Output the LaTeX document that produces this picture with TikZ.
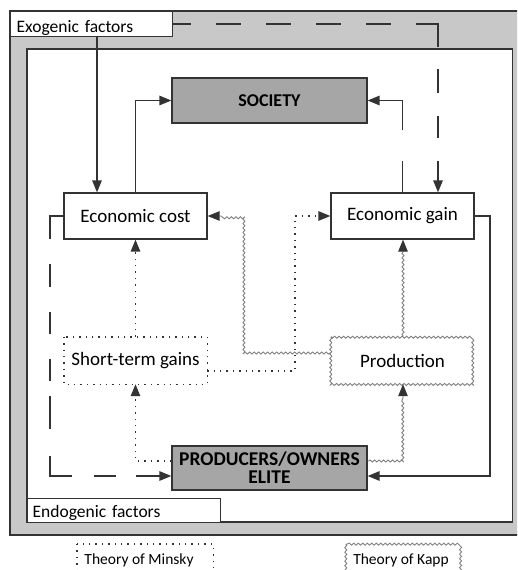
\documentclass[tikz,border=0pt]{standalone}
\usepackage{fontspec}
\setmainfont{Carlito}
\usetikzlibrary{arrows.meta,decorations.pathmorphing,calc}
\definecolor{linec}{HTML}{333333}
\definecolor{outerg}{HTML}{C8C8C8}
\definecolor{darkg}{HTML}{A6A6A6}
\definecolor{wavec}{HTML}{808080}
\tikzset{
  box/.style={draw=linec, line width=1.3pt, fill=white, font=\fontsize{19}{21}\selectfont, inner sep=0pt},
  darkbox/.style={box, fill=darkg, font=\fontsize{18}{18}\selectfont\bfseries, align=center},
  plain/.style={inner sep=0pt, font=\fontsize{19}{21}\selectfont},
  tip/.style={-{Triangle[length=12pt,width=9.5pt]}},
  solidarr/.style={draw=linec, line width=1.4pt, tip},
  longdash/.style={draw=linec, line width=1.4pt, tip},
  dotarr/.style={draw=linec, line width=1.4pt, dash pattern=on 1.4pt off 5pt, tip},
  dotline/.style={draw=linec, line width=1.4pt, dash pattern=on 1.4pt off 5pt},
  wavy/.style={draw=wavec, line width=0.9pt, decorate, decoration={snake, amplitude=1pt, segment length=4.5pt, pre length=1pt, post length=12pt}},
  wavyarr/.style={wavy, -{Triangle[length=12pt,width=9.5pt,color=linec]}, fill=none},
  wavybox/.style={draw=wavec, line width=0.9pt, decorate, decoration={snake, amplitude=1pt, segment length=4.5pt}},
  legendtext/.style={inner sep=0pt, anchor=base, font=\fontsize{15.5}{16}\selectfont},
}
\begin{document}
\begin{tikzpicture}[x=1pt,y=-1pt]
\useasboundingbox (0,0) rectangle (517,570);
\clip (0,0) rectangle (517,570);
% frames
\fill[outerg, draw=linec, line width=1.3pt] (10,11) rectangle (530,535);
\fill[white, draw=linec, line width=1.3pt] (27,49) rectangle (512.3,522);
\node[box, anchor=north west, minimum width=162pt, minimum height=25pt, text width=150pt, align=left, inner xsep=6pt, text height=17.6pt, text depth=0pt, font=\fontsize{17.5}{18}\selectfont] (exo) at (10,11) {Exogenic factors};
\node[box, anchor=north west, minimum width=193pt, minimum height=24pt, text width=183pt, align=left, inner xsep=5pt, text height=14.6pt, text depth=0pt, font=\fontsize{17.5}{18}\selectfont] (endo) at (27,498) {Endogenic factors};
% main nodes
\node[darkbox, minimum width=195pt, minimum height=45pt] (society) at (269.5,100.5) {SOCIETY};
\node[box, minimum width=143pt, minimum height=46pt] (cost) at (135.5,216) {Economic cost};
\node[box, minimum width=143pt, minimum height=46pt] (gain) at (402.5,216) {Economic gain};
\node[plain, minimum width=143pt, minimum height=47pt] (short) at (135.5,360.5) {Short-term gains};
\node[plain, minimum width=143pt, minimum height=47pt] (prod) at (402.5,360.5) {Production};
\node[darkbox, minimum width=195pt, minimum height=44pt, font=\fontsize{19.5}{18}\selectfont\bfseries] (elite) at (269.5,468) {PRODUCERS/OWNERS\\ELITE};
\draw[dotline] (short.north west) rectangle (short.south east);
\draw[wavybox] (prod.north west) rectangle (prod.south east);
% helper coordinates
\coordinate (xa) at (97,0);
\coordinate (xb) at (438,0);
\coordinate (xc) at (490,0);
\coordinate (xd) at (50,0);
\coordinate (xe) at (295,0);
\coordinate (xf) at (243,0);
\coordinate (xg) at (403,0);
% solid
\draw[solidarr] (exo.south -| xa) -- (cost.north -| xa);
\draw[solidarr] (cost.north) |- (society.west);
\draw[solidarr] (gain.east) -| (xc |- {$(elite.east)+(0,8)$}) -- ($(elite.east)+(0,8)$);
% long dashed
\draw[longdash, dash pattern=on 31pt off 31pt on 90pt off 1pt] (gain.north) |- (society.east);
\draw[longdash, dash pattern=on 18pt off 25pt on 25pt off 25pt on 25pt off 25pt on 25pt off 25pt on 25pt off 25pt on 45pt off 22pt on 24pt off 23pt on 22pt off 23pt on 60pt off 1pt] (exo.east) -| (gain.north -| xb);
\draw[longdash, dash pattern=on 36pt off 25pt on 23pt off 25pt on 22pt off 25pt on 22pt off 15pt on 33pt off 27pt on 42pt off 22pt on 22pt off 20pt on 70pt off 1pt] (cost.west) -| (xd |- {$(elite.west)+(0,8)$}) -- ($(elite.west)+(0,8)$);
% dotted (Minsky)
\draw[dotarr] (short.north) -- (cost.south);
\draw[dotarr] ($(elite.west)+(0,-7)$) -| (short.south);
\draw[dotarr] ($(short.east)+(0,10.5)$) -| (xe |- gain.west) -- (gain.west);
% wavy (Kapp)
\draw[wavyarr] ($(prod.west)+(0,-7.5)$) -| (xf |- cost.east) -- (cost.east);
\draw[wavyarr] (prod.north -| xg) -- (gain.south -| xg);
\draw[wavyarr] ($(elite.east)+(0,-7)$) -| (prod.south -| xg);
% legend
\node[plain, minimum width=136pt, minimum height=46pt, anchor=north] (minsky) at (145,544) {};
\node[legendtext] (minskyt) at (139,564.3) {Theory of Minsky};
\draw[dotline] (minsky.north west) rectangle (minsky.south east);
\node[plain, minimum width=114pt, minimum height=46pt, anchor=north] (kapp) at (403,544) {};
\node[legendtext] (kappt) at (401,564.3) {Theory of Kapp};
\draw[wavybox] (kapp.north west) rectangle (kapp.south east);
\end{tikzpicture}
\end{document}
